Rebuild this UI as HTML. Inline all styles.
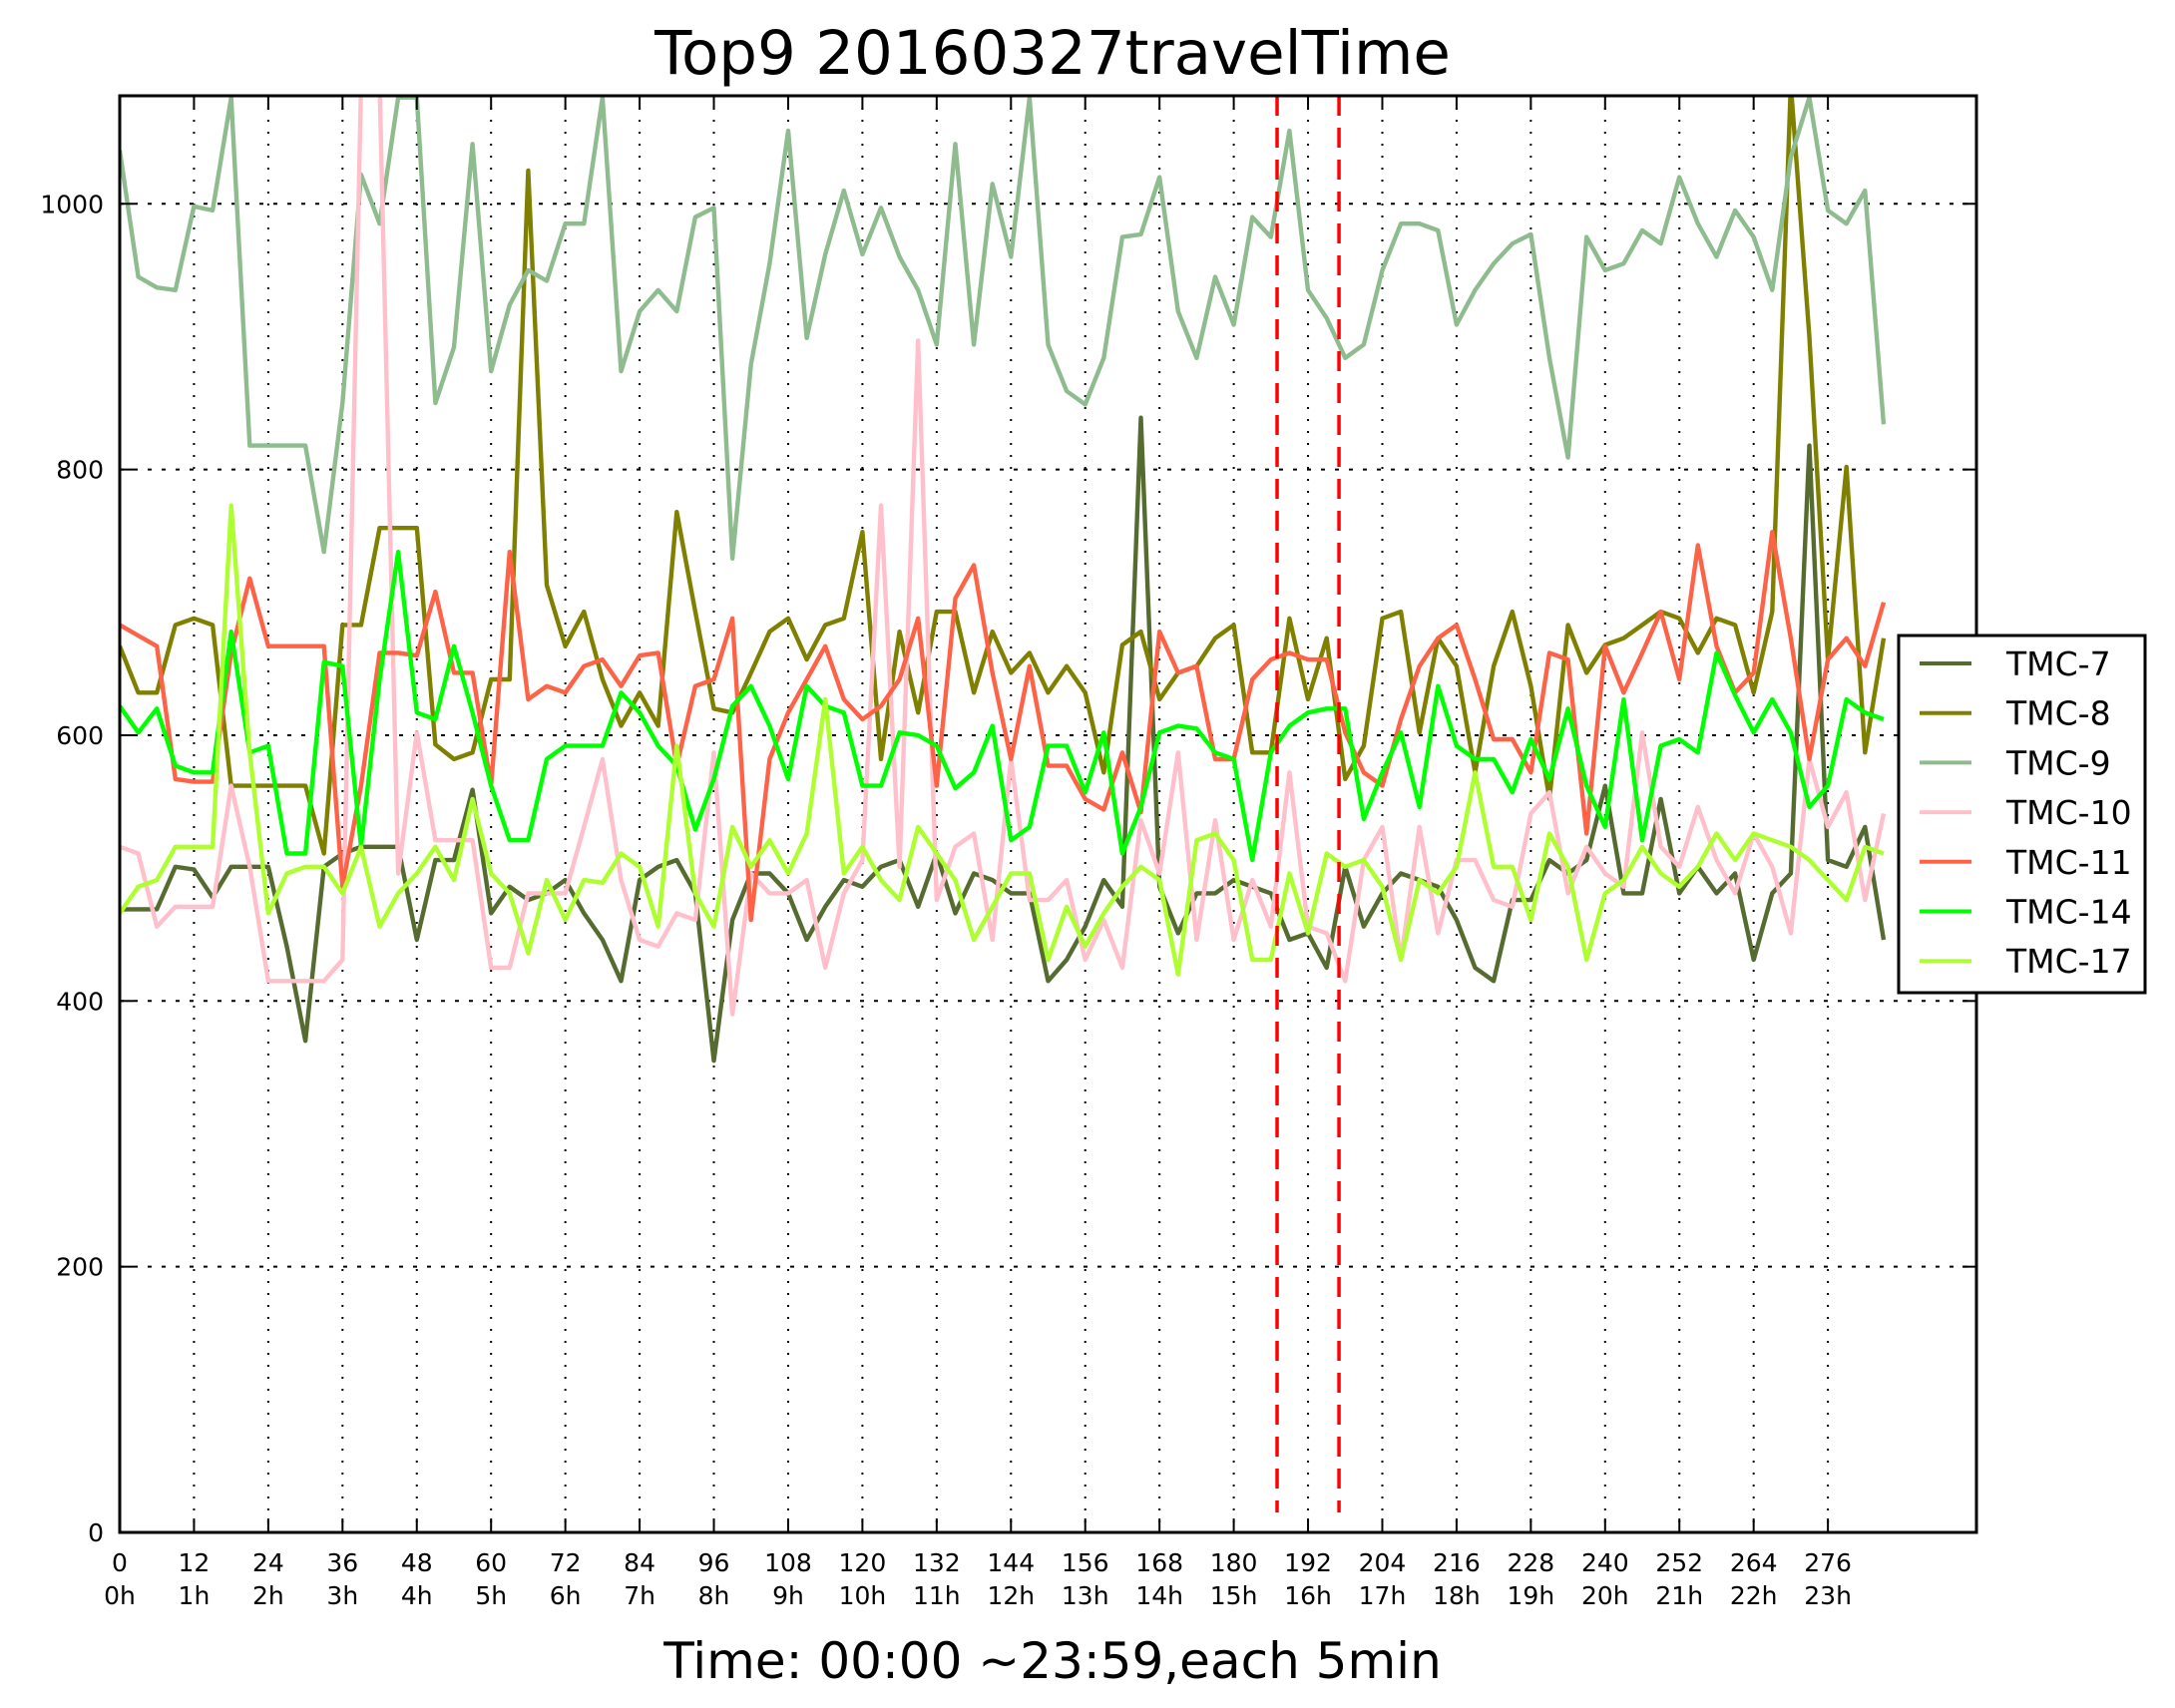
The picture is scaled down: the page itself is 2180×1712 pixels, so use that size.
<!DOCTYPE html>
<html><head><meta charset="utf-8"><style>
html,body{margin:0;padding:0;background:#fff;}
svg{display:block;font-family:"DejaVu Sans","Liberation Sans",sans-serif;}
</style></head><body>
<svg id="chart" width="2180" height="1712" viewBox="0 0 2180 1712" xmlns="http://www.w3.org/2000/svg">
<rect x="0" y="0" width="2180" height="1712" fill="#fff"/>
<text x="1055" y="74" font-size="61" text-anchor="middle">Top9 20160327travelTime</text>
<text x="1055" y="1682" font-size="50" text-anchor="middle">Time: 00:00 ~23:59,each 5min</text>
<defs><clipPath id="plotclip"><rect x="120" y="96" width="1861" height="1440"/></clipPath></defs>
<g id="grid"></g>
<g id="series" clip-path="url(#plotclip)"></g>
<g id="vlines"></g>
<rect x="120" y="96" width="1861" height="1440" fill="none" stroke="#000" stroke-width="3"/>
<g id="ticks"></g>
<g id="legend"></g>
</svg>
<script>
const step = 3;
const xTicks = [0,12,24,36,48,60,72,84,96,108,120,132,144,156,168,180,192,204,216,228,240,252,264,276];
const hourLabels = ["0h","1h","2h","3h","4h","5h","6h","7h","8h","9h","10h","11h","12h","13h","14h","15h","16h","17h","18h","19h","20h","21h","22h","23h"];
const yTicks = [0,200,400,600,800,1000];
const markerTimes = [187,197];
const seriesNames = ["TMC-7","TMC-8","TMC-9","TMC-10","TMC-11","TMC-14","TMC-17"];
const seriesColors = ["#556b2f","#808000","#8fbc8f","#ffc0cb","#ff6347","#00ff00","#adff2f"];
const tmc7 = [469,469,469,501,499,478,501,501,501,441,370,501,511,516,516,516,446,506,506,559,466,486,476,481,491,466,
 446,415,491,501,506,481,355,461,496,496,481,446,471,491,486,501,506,471,511,466,496,491,481,481,415,
 431,456,491,471,839,486,451,481,481,491,486,481,446,451,425,501,456,481,496,491,486,461,425,415,476,
 476,506,496,506,562,481,481,552,481,501,481,496,431,481,496,818,506,501,531,446];
const tmc8 = [667,632,632,683,688,683,562,562,562,562,562,511,683,683,756,756,756,593,582,587,642,642,1025,713,667,693,
 642,607,632,607,768,693,620,617,647,678,688,657,683,688,753,582,678,617,693,693,632,678,647,662,632,
 652,632,572,668,678,627,647,652,673,683,587,587,688,627,673,567,592,688,693,602,673,652,572,652,693,
 637,552,683,647,668,673,683,693,688,662,688,683,632,693,1090,900,657,802,587,673];
const tmc9 = [1040,945,937,935,998,995,1080,818,818,818,818,738,850,1022,985,1080,1080,850,892,1045,874,924,950,942,985,985,
 1080,874,919,935,919,990,997,733,879,955,1055,899,962,1010,962,997,960,935,894,1045,894,1015,960,1080,894,
 859,849,884,975,977,1020,919,884,945,909,990,975,1055,935,914,884,894,950,985,985,980,909,935,955,970,
 977,884,809,975,950,955,980,970,1020,985,960,995,975,935,1035,1080,995,985,1010,834];
const tmc10 = [516,511,456,471,471,471,562,501,415,415,415,415,431,1090,1090,496,602,521,521,521,425,425,481,481,481,531,
 582,491,446,441,466,461,587,390,496,481,481,491,425,481,506,773,501,897,476,516,526,446,582,476,476,
 491,431,461,425,536,496,587,446,536,446,491,456,572,456,451,415,506,531,431,531,451,506,506,476,471,
 541,557,481,516,496,486,602,516,501,546,506,481,526,501,451,582,531,557,476,541];
const tmc11 = [683,675,667,567,565,565,662,718,667,667,667,667,486,562,662,662,660,708,647,647,562,738,627,637,632,652,
 657,637,660,662,577,637,642,688,461,582,617,642,667,627,612,622,642,688,562,703,728,647,582,652,577,
 577,552,544,587,542,678,647,652,582,582,642,657,662,657,657,602,572,562,612,652,673,683,642,597,597,
 572,662,657,526,667,632,662,693,642,743,667,632,647,753,673,582,657,673,652,700];
const tmc14 = [622,602,620,577,572,572,678,587,592,511,511,655,652,516,642,738,617,612,667,617,562,521,521,582,592,592,
 592,632,617,592,577,529,567,622,637,607,567,637,622,617,562,562,602,600,592,560,572,607,521,531,592,
 592,557,602,511,546,602,607,605,587,582,506,587,607,617,620,620,537,572,602,546,637,592,582,582,557,
 597,567,620,562,531,627,521,592,597,587,662,630,602,627,602,546,562,627,617,612];
const tmc17 = [466,486,491,516,516,516,773,587,466,496,501,501,481,516,456,481,496,516,491,552,496,481,436,491,461,491,
 489,511,501,456,592,481,456,531,501,521,496,526,627,496,516,491,476,531,511,491,446,471,496,496,431,
 471,441,466,486,501,491,420,521,526,506,431,431,496,451,511,501,506,486,431,491,481,501,572,501,501,
 461,526,501,431,481,491,516,496,486,501,526,506,526,521,516,506,491,476,516,511];
const seriesValues = [tmc7,tmc8,tmc9,tmc10,tmc11,tmc14,tmc17];

const X0=120, X1=1981, Y0=1536, Y1=96, XMAX=300, YMAX=1081.3;
const xs = t => X0 + t*(X1-X0)/XMAX;
const ys = v => Y0 - v*(Y0-Y1)/YMAX;
const NS="http://www.w3.org/2000/svg";
function mk(tag, attrs, parent){const e=document.createElementNS(NS,tag);for(const k in attrs)e.setAttribute(k,attrs[k]);parent.appendChild(e);return e;}
const grid=document.getElementById('grid'), ticks=document.getElementById('ticks');
xTicks.forEach((t,i)=>{
  if(t>0){const g=mk('line',{x1:xs(t),x2:xs(t),y1:Y1,y2:Y0,stroke:'#000','stroke-width':2,'stroke-dasharray':'2,10'},grid);
  
  }
  const tb=mk('line',{x1:xs(t),x2:xs(t),y1:Y0,y2:Y0-14,stroke:'#000','stroke-width':2},ticks);
  
  
  const tt=mk('line',{x1:xs(t),x2:xs(t),y1:Y1,y2:Y1+14,stroke:'#000','stroke-width':2},ticks);
  
  
  const l1=mk('text',{x:xs(t),y:1575,'font-size':25,'text-anchor':'middle'},ticks);l1.textContent=t;
  
  
  const l2=mk('text',{x:xs(t),y:1608,'font-size':25,'text-anchor':'middle'},ticks);l2.textContent=hourLabels[i];
  
  
});
yTicks.forEach(v=>{
  if(v>0){const g=mk('line',{x1:X0,x2:X1,y1:ys(v),y2:ys(v),stroke:'#000','stroke-width':2,'stroke-dasharray':'4,10'},grid);
  
  }
  const a=mk('line',{x1:X0,x2:X0+14,y1:ys(v),y2:ys(v),stroke:'#000','stroke-width':2},ticks);
  
  
  const b=mk('line',{x1:X1,x2:X1-14,y1:ys(v),y2:ys(v),stroke:'#000','stroke-width':2},ticks);
  
  
  const l=mk('text',{x:104,y:ys(v)+9,'font-size':25,'text-anchor':'end'},ticks);l.textContent=v;
  
  
});
const sg=document.getElementById('series');
seriesValues.forEach((vals,si)=>{
  const pts=vals.map((v,i)=>xs(i*step).toFixed(1)+','+ys(v).toFixed(1)).join(' ');
  const p=mk('polyline',{points:pts,fill:'none',stroke:seriesColors[si],'stroke-width':4.4,'stroke-linejoin':'round'},sg);
  
  
});
const vg=document.getElementById('vlines');
markerTimes.forEach(t=>{
  const l=mk('line',{x1:xs(t),x2:xs(t),y1:Y1,y2:1516,stroke:'#ff0000','stroke-width':3.5,'stroke-dasharray':'20,12'},vg);
  
  
});
const lg=document.getElementById('legend');
const box=mk('rect',{x:1903,y:637,width:247,height:358,fill:'#fff',stroke:'#000','stroke-width':3},lg);


seriesNames.forEach((n,i)=>{
  const cy=665+i*49.7;
  const l=mk('line',{x1:1924,x2:1976,y1:cy,y2:cy,stroke:seriesColors[i],'stroke-width':4},lg);
  
  
  const t=mk('text',{x:2011,y:cy+12,'font-size':33},lg);t.textContent=n;
  
  
});
</script>
</body></html>
